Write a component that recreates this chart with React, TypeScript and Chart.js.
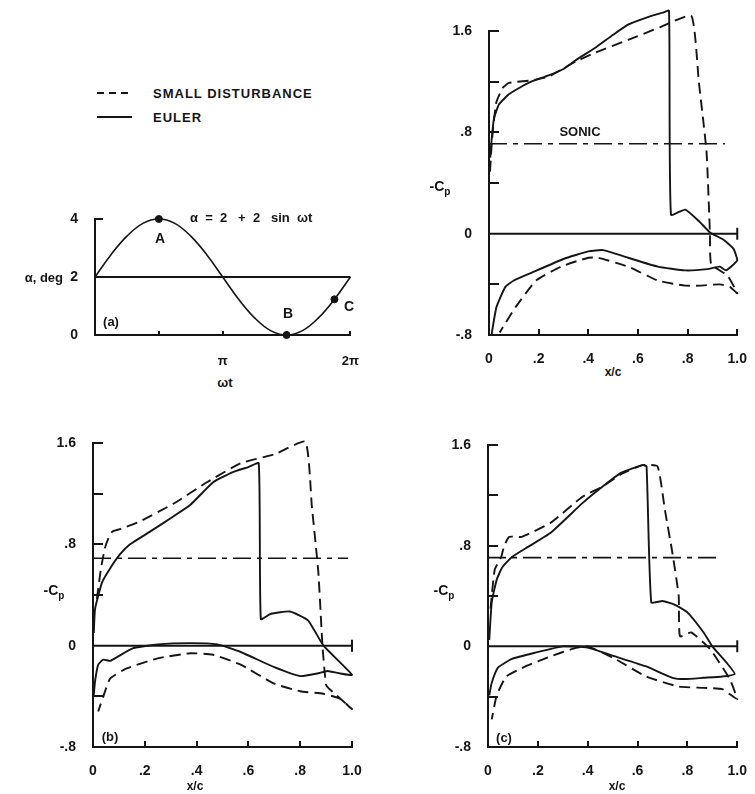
import React, { useEffect, useRef } from 'react';
import { Chart, registerables } from 'chart.js';

Chart.register(...registerables);

const FONT = "'Liberation Sans', Arial, Helvetica, sans-serif";
const INK = '#151515';

// ---------- tick labels ----------
const cpTickValues = [-0.8, 0, 0.8, 1.6];
const cpTickLabels = ['-.8', '0', '.8', '1.6'];
const cpInwardTicks = [-0.4, 0.4, 0.8, 1.2, 1.6];
const xcTickValues = [0, 0.2, 0.4, 0.6, 0.8, 1.0];
const xcTickLabels = ['0', '.2', '.4', '.6', '.8', '1.0'];
const xcInwardTicks = [0.2, 0.4, 0.6, 0.8, 1.0];

// ---------- panel (a): alpha = 2 + 2 sin(wt), wt in units of pi ----------
const phaseX = [0, 0.125, 0.25, 0.375, 0.5, 0.625, 0.75, 0.875, 1, 1.125, 1.25, 1.375, 1.5, 1.625, 1.75, 1.875, 2];
const alphaDeg = [2, 2.77, 3.41, 3.85, 4, 3.85, 3.41, 2.77, 2, 1.23, 0.59, 0.15, 0, 0.15, 0.59, 1.23, 2];
const phaseTickValues = [1, 2];
const phaseTickLabels = ['π', '2π'];
const alphaTickValues = [0, 2, 4];
const alphaTickLabels = ['0', '2', '4'];
const markX = [0.5, 1.5, 1.875];
const markAlpha = [4, 0, 1.23];

// ---------- top-right panel (point A) ----------
const eulerA_x = [0.005, 0.01, 0.02, 0.04, 0.08, 0.13, 0.17, 0.24, 0.3, 0.35, 0.43, 0.5, 0.56, 0.64, 0.7, 0.725, 0.733, 0.79, 0.845, 0.89, 0.946, 0.985, 1.0, 0.955, 0.93, 0.88, 0.79, 0.68, 0.56, 0.46, 0.4, 0.3, 0.17, 0.1, 0.066, 0.03, 0.01];
const eulerA_cp = [0.6, 0.73, 0.91, 1.02, 1.1, 1.16, 1.2, 1.25, 1.3, 1.37, 1.47, 1.57, 1.65, 1.71, 1.745, 1.76, 0.15, 0.19, 0.1, 0.01, -0.05, -0.12, -0.21, -0.29, -0.26, -0.28, -0.29, -0.26, -0.19, -0.13, -0.14, -0.2, -0.31, -0.37, -0.42, -0.58, -0.8];
const smallDistA_x = [0.004, 0.01, 0.016, 0.03, 0.055, 0.08, 0.17, 0.24, 0.35, 0.43, 0.56, 0.69, 0.815, 0.845, 0.876, 0.89, 0.895, 0.96, 1.0, 0.97, 0.93, 0.85, 0.79, 0.68, 0.56, 0.44, 0.4, 0.29, 0.19, 0.107, 0.043];
const smallDistA_cp = [0.49, 0.68, 0.83, 1.04, 1.15, 1.19, 1.21, 1.24, 1.36, 1.43, 1.53, 1.63, 1.72, 1.2, 0.65, 0.0, -0.24, -0.33, -0.47, -0.42, -0.4, -0.41, -0.41, -0.37, -0.26, -0.19, -0.19, -0.26, -0.37, -0.58, -0.78];
const sonicA = 0.71;
const sonicEndA = 0.95;

// ---------- bottom-left panel (b) ----------
const eulerB_x = [0.003, 0.008, 0.035, 0.066, 0.104, 0.143, 0.22, 0.31, 0.375, 0.464, 0.54, 0.6, 0.64, 0.648, 0.685, 0.76, 0.83, 0.89, 1.0, 0.955, 0.905, 0.866, 0.8, 0.7, 0.57, 0.48, 0.375, 0.25, 0.155, 0.093, 0.066, 0.04, 0.02, 0.008, 0.003];
const eulerB_cp = [0.1, 0.29, 0.5, 0.61, 0.72, 0.8, 0.9, 1.02, 1.11, 1.29, 1.37, 1.41, 1.44, 0.21, 0.25, 0.27, 0.2, 0.0, -0.23, -0.22, -0.2, -0.22, -0.24, -0.17, -0.05, 0.01, 0.02, 0.01, -0.02, -0.09, -0.12, -0.11, -0.15, -0.28, -0.39];
const smallDistB_x = [0.015, 0.03, 0.046, 0.06, 0.074, 0.104, 0.18, 0.31, 0.44, 0.57, 0.7, 0.82, 0.845, 0.87, 0.886, 0.9, 0.917, 1.0, 0.955, 0.89, 0.8, 0.7, 0.57, 0.46, 0.375, 0.25, 0.13, 0.066, 0.04, 0.02];
const smallDistB_cp = [0.37, 0.6, 0.77, 0.85, 0.9, 0.92, 0.98, 1.12, 1.29, 1.44, 1.51, 1.61, 1.1, 0.58, 0.0, -0.31, -0.35, -0.5, -0.42, -0.38, -0.36, -0.3, -0.15, -0.07, -0.06, -0.1, -0.18, -0.26, -0.4, -0.52];
const sonicB = 0.69;
const sonicEndB = 0.985;

// ---------- bottom-right panel (c) ----------
const eulerC_x = [0.005, 0.015, 0.035, 0.058, 0.096, 0.16, 0.25, 0.38, 0.46, 0.535, 0.62, 0.636, 0.655, 0.7, 0.75, 0.8, 0.865, 0.9, 0.957, 0.99, 0.94, 0.865, 0.79, 0.74, 0.635, 0.51, 0.4, 0.3, 0.19, 0.096, 0.04, 0.015, 0.005];
const eulerC_cp = [0.05, 0.35, 0.53, 0.63, 0.71, 0.79, 0.9, 1.14, 1.27, 1.38, 1.44, 1.43, 0.35, 0.36, 0.33, 0.27, 0.11, 0.0, -0.13, -0.22, -0.24, -0.25, -0.26, -0.25, -0.16, -0.08, -0.01, 0.0, -0.05, -0.1, -0.17, -0.29, -0.39];
const smallDistC_x = [0.01, 0.027, 0.053, 0.065, 0.085, 0.135, 0.25, 0.38, 0.46, 0.535, 0.62, 0.68, 0.71, 0.74, 0.765, 0.77, 0.815, 0.89, 0.97, 1.0, 0.94, 0.865, 0.765, 0.635, 0.51, 0.4, 0.34, 0.25, 0.15, 0.073, 0.035, 0.015];
const smallDistC_cp = [0.3, 0.61, 0.71, 0.8, 0.87, 0.87, 0.98, 1.19, 1.27, 1.37, 1.44, 1.43, 1.08, 0.74, 0.4, 0.08, 0.11, -0.02, -0.26, -0.42, -0.34, -0.33, -0.32, -0.24, -0.1, 0.0, -0.02, -0.08, -0.16, -0.24, -0.39, -0.58];
const sonicC = 0.705;
const sonicEndC = 0.92;

// ---------- helpers ----------
const zip = (xs: number[], ys: number[]) => xs.map((x, i) => ({ x, y: ys[i] }));

const tickFont = { family: FONT, size: 14, weight: 'bold' as const };

function inwardTicksPlugin(cfg: { yTicks: number[]; xTicks: number[]; yLen: number; xLen: number; endTickY?: number; endTickX?: number }) {
  return {
    id: 'inwardTicks',
    afterDatasetsDraw(chart: any) {
      const { ctx, chartArea, scales } = chart;
      const x = scales.x;
      const y = scales.y;
      ctx.save();
      ctx.strokeStyle = INK;
      ctx.lineWidth = 2;
      ctx.beginPath();
      for (const v of cfg.yTicks) {
        const py = Math.round(y.getPixelForValue(v));
        ctx.moveTo(chartArea.left, py);
        ctx.lineTo(chartArea.left + cfg.yLen, py);
      }
      for (const v of cfg.xTicks) {
        const px = Math.round(x.getPixelForValue(v));
        ctx.moveTo(px, chartArea.bottom);
        ctx.lineTo(px, chartArea.bottom - cfg.xLen);
      }
      if (cfg.endTickY !== undefined && cfg.endTickX !== undefined) {
        const px = x.getPixelForValue(cfg.endTickX);
        const py = y.getPixelForValue(cfg.endTickY);
        ctx.moveTo(px, py - 6);
        ctx.lineTo(px, py + 6);
      }
      ctx.stroke();
      ctx.restore();
    },
  };
}

type CpProps = {
  left: number; top: number; width: number; height: number;
  axisW: number; axisH: number; padTop: number; padRight: number;
  eulerX: number[]; eulerCp: number[]; sdX: number[]; sdCp: number[];
  sonic: number; sonicEnd: number;
};

function CpPanel(p: CpProps) {
  const ref = useRef<HTMLCanvasElement>(null);
  useEffect(() => {
    const chart = new Chart(ref.current as HTMLCanvasElement, {
      type: 'line',
      data: {
        datasets: [
          { label: 'EULER', data: zip(p.eulerX, p.eulerCp), borderColor: INK, borderWidth: 1.9, pointRadius: 0, tension: 0.15, clip: false } as any,
          { label: 'SMALL DISTURBANCE', data: zip(p.sdX, p.sdCp), borderColor: INK, borderWidth: 1.9, borderDash: [11, 6], pointRadius: 0, tension: 0.15, clip: false } as any,
          { label: 'zero', data: [{ x: 0, y: 0 }, { x: 1, y: 0 }], borderColor: INK, borderWidth: 2, pointRadius: 0, clip: false } as any,
          { label: 'sonic', data: [{ x: 0, y: p.sonic }, { x: p.sonicEnd, y: p.sonic }], borderColor: INK, borderWidth: 1.6, borderDash: [18, 6, 5, 6], pointRadius: 0, clip: false } as any,
        ],
      },
      options: {
        responsive: false,
        animation: false,
        events: [],
        layout: { padding: { top: p.padTop, right: p.padRight, left: 0, bottom: 0 } },
        plugins: { legend: { display: false }, tooltip: { enabled: false } },
        scales: {
          x: {
            type: 'linear', min: 0, max: 1,
            grid: { display: false },
            border: { display: true, width: 2, color: INK },
            afterBuildTicks: (s: any) => { s.ticks = xcTickValues.map((v) => ({ value: v })); },
            afterFit: (s: any) => { s.height = p.axisH; },
            ticks: { padding: 8, color: INK, font: tickFont, maxRotation: 0, autoSkip: false, callback: (_v: any, i: number) => xcTickLabels[i] },
          },
          y: {
            type: 'linear', min: -0.8, max: 1.6,
            grid: { display: false },
            border: { display: true, width: 2, color: INK },
            afterBuildTicks: (s: any) => { s.ticks = cpTickValues.map((v) => ({ value: v })); },
            afterFit: (s: any) => { s.width = p.axisW; },
            ticks: { padding: 9, color: INK, font: tickFont, autoSkip: false, callback: (_v: any, i: number) => cpTickLabels[i] },
          },
        },
      } as any,
      plugins: [inwardTicksPlugin({ yTicks: cpInwardTicks, xTicks: xcInwardTicks, yLen: 10, xLen: 6, endTickX: 1, endTickY: 0 })],
    });
    return () => chart.destroy();
  }, []);
  return (
    <canvas ref={ref} width={p.width} height={p.height}
      style={{ position: 'absolute', left: p.left, top: p.top, width: p.width, height: p.height }} />
  );
}

function PhasePanel() {
  const ref = useRef<HTMLCanvasElement>(null);
  const W = 370, H = 220;
  useEffect(() => {
    const chart = new Chart(ref.current as HTMLCanvasElement, {
      type: 'line',
      data: {
        datasets: [
          { label: 'alpha', data: zip(phaseX, alphaDeg), borderColor: INK, borderWidth: 1.6, pointRadius: 0, tension: 0.4, clip: false } as any,
          { label: 'mean', data: [{ x: 0, y: 2 }, { x: 2, y: 2 }], borderColor: INK, borderWidth: 2, pointRadius: 0, clip: false } as any,
          { label: 'marks', data: zip(markX, markAlpha), showLine: false, pointRadius: 3.5, pointBackgroundColor: INK, pointBorderColor: INK, clip: false } as any,
        ],
      },
      options: {
        responsive: false,
        animation: false,
        events: [],
        layout: { padding: { top: 69, right: 18, left: 0, bottom: 0 } },
        plugins: { legend: { display: false }, tooltip: { enabled: false } },
        scales: {
          x: {
            type: 'linear', min: 0, max: 2,
            grid: { display: false },
            border: { display: true, width: 2, color: INK },
            afterBuildTicks: (s: any) => { s.ticks = phaseTickValues.map((v) => ({ value: v })); },
            afterFit: (s: any) => { s.height = 35; },
            ticks: { padding: 11, color: INK, font: { family: FONT, size: 13, weight: 'bold' }, maxRotation: 0, autoSkip: false, callback: (_v: any, i: number) => phaseTickLabels[i] },
          },
          y: {
            type: 'linear', min: 0, max: 4,
            grid: { display: false },
            border: { display: true, width: 2, color: INK },
            afterBuildTicks: (s: any) => { s.ticks = alphaTickValues.map((v) => ({ value: v })); },
            afterFit: (s: any) => { s.width = 95; },
            ticks: { padding: 9, color: INK, font: tickFont, autoSkip: false, callback: (_v: any, i: number) => alphaTickLabels[i] },
          },
        },
      } as any,
      plugins: [inwardTicksPlugin({ yTicks: [4], xTicks: [0.5, 1, 1.5, 2], yLen: 8, xLen: 4 })],
    });
    return () => chart.destroy();
  }, []);
  return <canvas ref={ref} width={W} height={H} style={{ position: 'absolute', left: 0, top: 150, width: W, height: H }} />;
}

function Txt(props: { x: number; y: number; children: any; size?: number; align?: 'center' | 'left' | 'right'; spacing?: number }) {
  const align = props.align || 'center';
  const tx = align === 'center' ? '-50%' : align === 'right' ? '-100%' : '0';
  return (
    <div style={{
      position: 'absolute', left: props.x, top: props.y, transform: `translate(${tx}, -50%)`,
      fontFamily: FONT, fontWeight: 'bold', fontSize: props.size || 13, color: INK,
      whiteSpace: 'pre', lineHeight: 1, letterSpacing: props.spacing ? `${props.spacing}px` : undefined,
    }}>{props.children}</div>
  );
}

function CpLabel(props: { x: number; y: number }) {
  return (
    <Txt x={props.x} y={props.y} size={14}>
      -C<span style={{ fontSize: 10, position: 'relative', top: 4 }}>p</span>
    </Txt>
  );
}

export default function App() {
  return (
    <div style={{ position: 'absolute', left: 0, top: 0, width: 755, height: 794, background: '#fff', overflow: 'hidden' }}>
      <PhasePanel />
      <CpPanel left={400} top={0} width={355} height={365} axisW={89} axisH={30} padTop={31} padRight={8}
        eulerX={eulerA_x} eulerCp={eulerA_cp} sdX={smallDistA_x} sdCp={smallDistA_cp} sonic={sonicA} sonicEnd={sonicEndA} />
      <CpPanel left={0} top={400} width={370} height={380} axisW={93} axisH={33} padTop={43} padRight={18}
        eulerX={eulerB_x} eulerCp={eulerB_cp} sdX={smallDistB_x} sdCp={smallDistB_cp} sonic={sonicB} sonicEnd={sonicEndB} />
      <CpPanel left={400} top={400} width={355} height={380} axisW={88} axisH={33} padTop={45} padRight={7}
        eulerX={eulerC_x} eulerCp={eulerC_cp} sdX={smallDistC_x} sdCp={smallDistC_cp} sonic={sonicC} sonicEnd={sonicEndC} />

      {/* legend */}
      <svg style={{ position: 'absolute', left: 90, top: 80 }} width={50} height={45}>
        <line x1={7} y1={13} x2={42} y2={13} stroke={INK} strokeWidth={2} strokeDasharray="7 5" />
        <line x1={7} y1={37} x2={42} y2={37} stroke={INK} strokeWidth={2} />
      </svg>
      <Txt x={153} y={93} align="left" spacing={1}>SMALL DISTURBANCE</Txt>
      <Txt x={153} y={117} align="left" spacing={1}>EULER</Txt>

      {/* panel (a) annotations */}
      <Txt x={190} y={217} align="left">{'α  =  2   +  2   sin  ωt'}</Txt>
      <Txt x={63} y={277} align="right">α, deg</Txt>
      <Txt x={160} y={238} size={14}>A</Txt>
      <Txt x={288} y={313} size={14}>B</Txt>
      <Txt x={349} y={306} size={14}>C</Txt>
      <Txt x={111} y={321}>(a)</Txt>
      <Txt x={225} y={382}>ωt</Txt>

      {/* top-right panel annotations */}
      <CpLabel x={440} y={186} />
      <Txt x={580} y={131}>SONIC</Txt>
      <Txt x={613} y={372} size={12}>x/c</Txt>

      {/* panel (b) annotations */}
      <CpLabel x={54} y={590} />
      <Txt x={110} y={736}>(b)</Txt>
      <Txt x={195} y={786} size={12}>x/c</Txt>

      {/* panel (c) annotations */}
      <CpLabel x={444} y={590} />
      <Txt x={504} y={737}>(c)</Txt>
      <Txt x={617} y={786} size={12}>x/c</Txt>
    </div>
  );
}
